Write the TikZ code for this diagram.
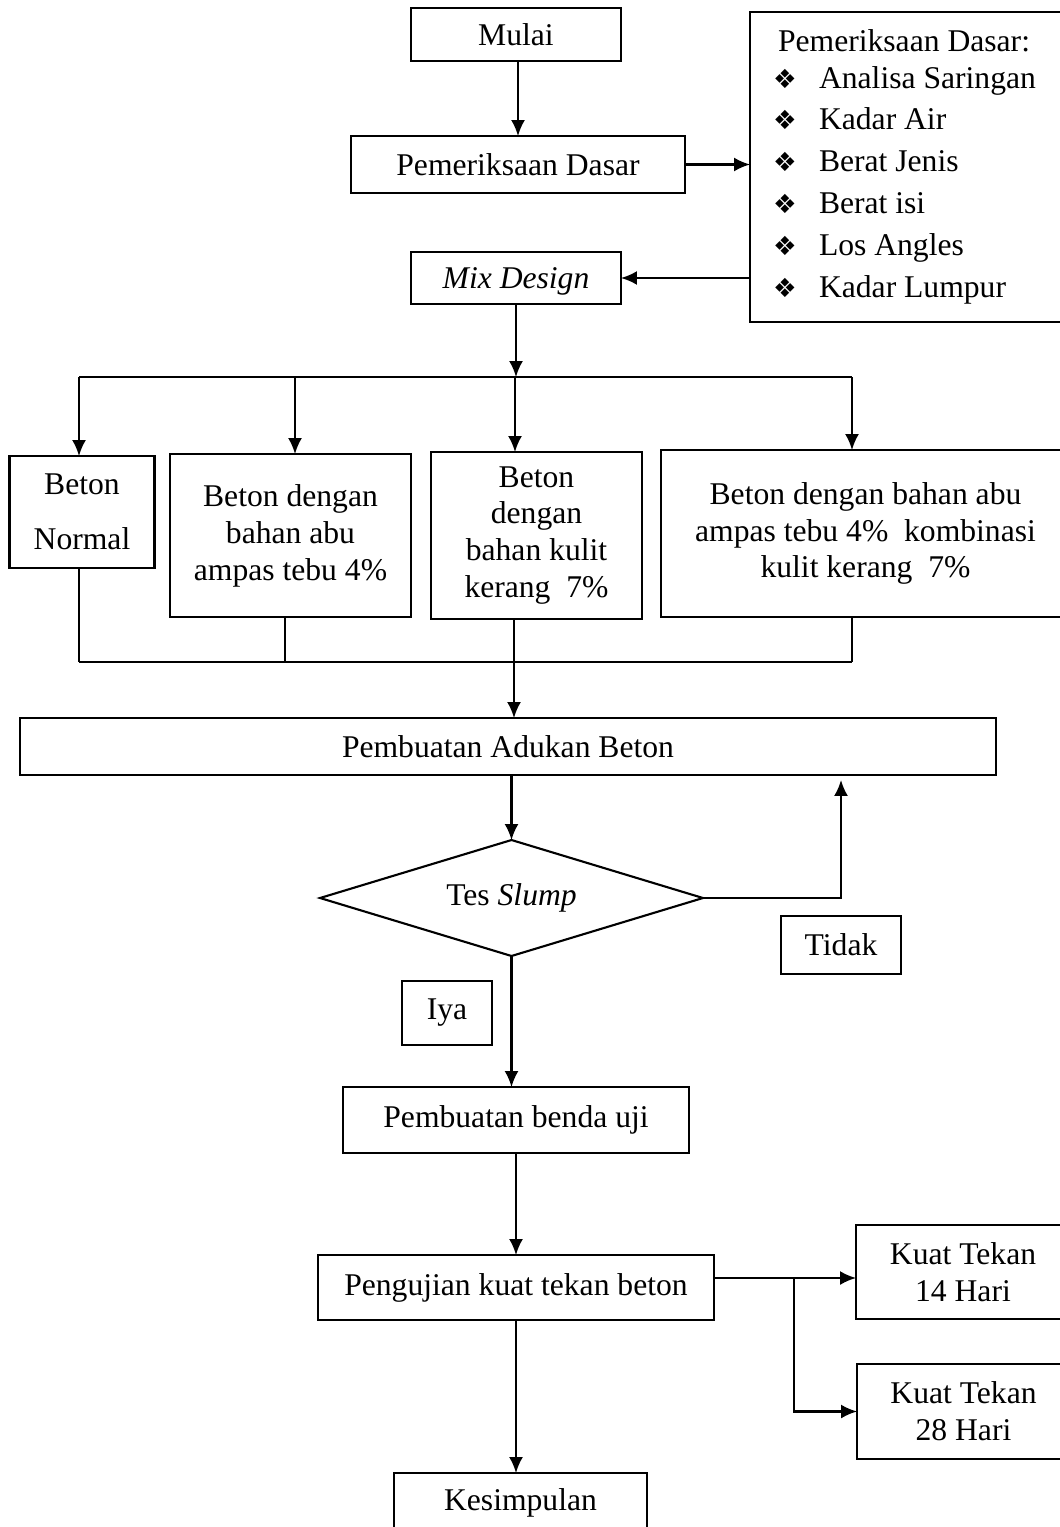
\documentclass[tikz,border=0pt]{standalone}
\usepackage{fontspec}
\setmainfont{Liberation Serif}
\newfontfamily\simbol{DejaVu Sans}
\usetikzlibrary{shapes.geometric, arrows.meta}
\newcommand{\butir}[1]{\makebox[0.92cm][l]{\simbol\fontsize{15}{15}\selectfont ❖}#1}

\begin{document}
\begin{tikzpicture}[x=0.02cm, y=-0.02cm, line width=1.2pt, line join=miter,
    kotak/.style={draw, rectangle, inner sep=0pt, outer sep=0pt, align=center, font=\fontsize{18}{21}\selectfont},
    panah/.style={-{Latex[length=3.2mm, width=2.8mm]}}]
    %Frame
    \useasboundingbox (0,0) rectangle (1060,1527);
    \clip (0,0) rectangle (1060,1527);

        %Top Part
    \node[kotak, minimum width=4.2cm, minimum height=1.06cm] (mulai) at (516,34.5) {Mulai};
    \node[kotak, minimum width=6.68cm, minimum height=1.14cm] (dasar) at (518,164.5) {Pemeriksaan Dasar};
    \node[kotak, minimum width=6.4cm, minimum height=6.2cm] (daftar) at (910,167)
        {\begin{tabular}{@{}p{5.48cm}@{}}
        \hspace*{0.1cm}Pemeriksaan Dasar:\\
        \butir{Analisa Saringan}\\[0.1cm]
        \butir{Kadar Air}\\[0.1cm]
        \butir{Berat Jenis}\\[0.1cm]
        \butir{Berat isi}\\[0.1cm]
        \butir{Los Angles}\\[0.1cm]
        \butir{Kadar Lumpur}
        \end{tabular}};
    \node[kotak, minimum width=4.2cm, minimum height=1.04cm, text depth=0pt] (mix) at (516,278) {\textit{Mix Design}};

        %Variations
    \node[kotak, minimum width=2.9cm, minimum height=2.24cm] (normal) at (82,512) {Beton\\[0.36cm]Normal};
    \node[kotak, minimum width=4.82cm, minimum height=3.26cm] (abu) at (290.5,535.5) {Beton dengan\\bahan abu\\ampas tebu 4\%};
    \node[kotak, minimum width=4.22cm, minimum height=3.34cm] (kulit) at (536.5,535.5) {Beton\\dengan\\bahan kulit\\kerang~~7\%};
    \node[kotak, minimum width=8.18cm, minimum height=3.34cm] (gabung) at (865.5,533.5) {Beton dengan bahan abu\\ampas tebu 4\%~~kombinasi\\kulit kerang~~7\%};

        %Mixing and Slump
    \node[kotak, minimum width=19.52cm, minimum height=1.14cm] (adukan) at (508,746.5) {Pembuatan Adukan Beton};
    \node[kotak, diamond, aspect=3.3, minimum width=7.66cm, minimum height=2.32cm] (slump) at (511.5,898) {Tes \textit{Slump}};
    \node[kotak, minimum width=2.4cm, minimum height=1.16cm] (tidak) at (841,945) {Tidak};
    \node[kotak, minimum width=1.8cm, minimum height=1.28cm] (iya) at (447,1013) {Iya};

        %Testing
    \node[kotak, minimum width=6.92cm, minimum height=1.32cm] (benda) at (516,1120) {Pembuatan benda uji};
    \node[kotak, minimum width=7.92cm, minimum height=1.3cm] (uji) at (516,1287.5) {Pengujian kuat tekan beton};
    \node[kotak, minimum width=4.28cm, minimum height=1.88cm] (kuat14) at (963,1272) {Kuat Tekan\\14 Hari};
    \node[kotak, minimum width=4.26cm, minimum height=1.9cm] (kuat28) at (963.5,1411.5) {Kuat Tekan\\28 Hari};
    \node[kotak, minimum width=5.06cm, minimum height=1.2cm] (simpul) at (520.5,1503) {Kesimpulan};

    %Coordinates
    \coordinate (pisah) at (794,1278);

        %Top Arrows
    \draw[panah] (mulai.south -| dasar.north) -- (dasar.north);
    \draw[panah] (dasar.east) -- (dasar.east -| daftar.west);
    \draw[panah] (daftar.west |- mix.east) -- (mix.east);

        %Branches
    \foreach \n/\x in {normal/79, abu/295, kulit/515, gabung/852}{
        \coordinate (a\n) at (\x,377);
        \draw[panah] (a\n) -- (a\n |- \n.north);
    }
    \draw (anormal) -- (agabung);
    \draw[panah] (mix.south) -- (mix.south |- akulit);
    \foreach \n/\x in {normal/79, abu/285, kulit/514, gabung/852}{
        \coordinate (b\n) at (\x,662);
        \draw (b\n |- \n.south) -- (b\n);
    }
    \draw (bnormal) -- (bgabung);
    \draw[panah] (bkulit) -- (bkulit |- adukan.north);

        %Slump Loop
    \draw[panah] (adukan.south -| slump.north) -- (slump.north);
    \draw[panah, shorten >=0.1cm] (slump.east) -- (slump.east -| tidak.north) -- (tidak.north |- adukan.south);
    \draw[panah] (slump.south) -- (slump.south |- benda.north);

        %Bottom Arrows
    \draw[panah] (benda.south) -- (benda.south |- uji.north);
    \draw[panah] (uji.south) -- (uji.south |- simpul.north);
    \draw[panah] (pisah -| uji.east) -- (pisah -| kuat14.west);
    \draw[panah] (pisah) -- (pisah |- kuat28.west) -- (kuat28.west);
\end{tikzpicture}
\end{document}
